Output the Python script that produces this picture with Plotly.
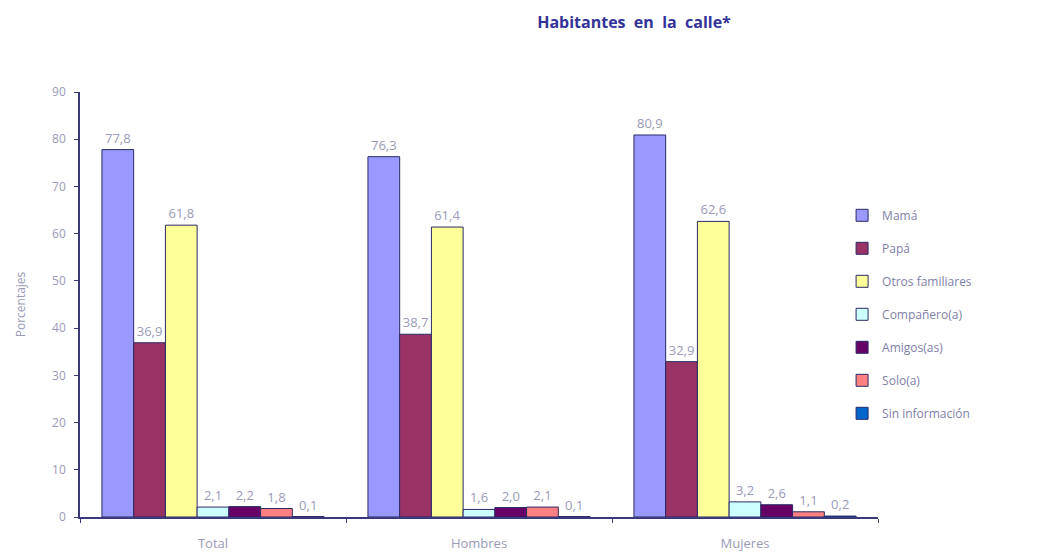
import plotly.graph_objects as go

categories = ["Total", "Hombres", "Mujeres"]
series_names = ["Mamá", "Papá", "Otros familiares", "Compañero(a)", "Amigos(as)", "Solo(a)", "Sin información"]
mama = [77.8, 76.3, 80.9]
papa = [36.9, 38.7, 32.9]
otros = [61.8, 61.4, 62.6]
companero = [2.1, 1.6, 3.2]
amigos = [2.2, 2.0, 2.6]
solo = [1.8, 2.1, 1.1]
sin_info = [0.1, 0.1, 0.2]
y_ticks = [0, 10, 20, 30, 40, 50, 60, 70, 80, 90]

series_values = [mama, papa, otros, companero, amigos, solo, sin_info]
colors = ["#9999FF", "#993366", "#FFFF99", "#CCFFFF", "#660066", "#FF8080", "#0066CC"]

FONT = "Open Sans"
GRAY = "#9a9ab8"

fig = go.Figure()
for i, (name, vals) in enumerate(zip(series_names, series_values)):
    fig.add_trace(go.Bar(
        name=name, x=categories, y=vals,
        marker=dict(color=colors[i], line=dict(color="#2a2a66", width=1)),
        texttemplate="%{y:.1f}", textposition="outside", cliponaxis=False,
        textfont=dict(color=GRAY, size=13, family=FONT),
        legendgroup=str(i),
    ))

fig.update_layout(
    width=1061, height=557,
    separators=",.",
    barmode="group", bargap=0.165, bargroupgap=0,
    plot_bgcolor="white", paper_bgcolor="white",
    margin=dict(l=67, r=191, t=84, b=48),
    font=dict(family=FONT, color=GRAY, size=12),
    title=dict(text="<b>Habitantes  en  la  calle*</b>", x=0.59, xanchor="center",
               y=0.975, yanchor="middle",
               font=dict(family=FONT, size=16, color="#333399")),
    legend=dict(x=0.955, y=0.744, xanchor="left", yanchor="top",
                font=dict(family=FONT, size=12, color="#8080a8"),
                tracegroupgap=14, traceorder="grouped", bgcolor="rgba(0,0,0,0)"),
    showlegend=True,
)
fig.update_xaxes(showline=True, linecolor="#3a3a7a", linewidth=1.5,
                 ticks="outside", tickson="boundaries", ticklen=4, tickcolor="#3a3a7a",
                 ticklabelstandoff=14,
                 tickfont=dict(size=13, color=GRAY), showgrid=False, zeroline=False)
fig.update_yaxes(range=[0, 90], tickvals=y_ticks, showline=True, linecolor="#3a3a7a", linewidth=1.5,
                 ticks="outside", ticklen=4, tickcolor="#3a3a7a", showgrid=False, zeroline=False,
                 ticklabelstandoff=6,
                 tickfont=dict(size=12, color=GRAY),
                 title=dict(text="Porcentajes", font=dict(size=12, color=GRAY), standoff=24))

fig.write_html("out.html")
